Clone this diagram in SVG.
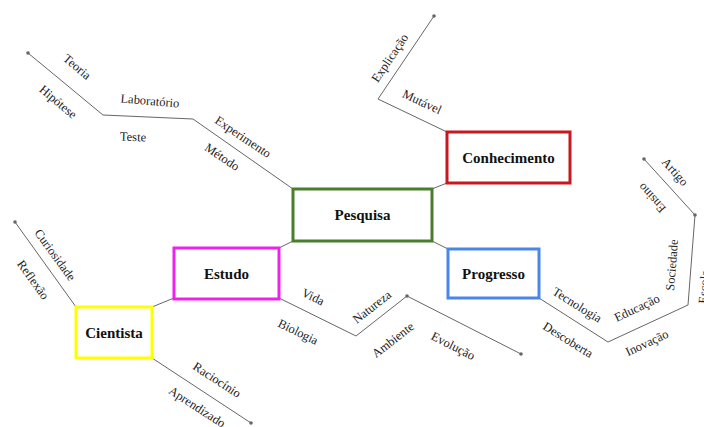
<svg xmlns="http://www.w3.org/2000/svg" width="704" height="427" viewBox="0 0 704 427">
<style>
.box{fill:#fff;stroke-width:3}
.nt{font-family:"Liberation Serif","Times New Roman",serif;font-size:15px;font-weight:bold;fill:#111;text-anchor:middle;dominant-baseline:central}
.lb{font-family:"Liberation Serif","Times New Roman",serif;font-size:12.5px;fill:#222;text-anchor:middle;dominant-baseline:central}
.ln{fill:none;stroke:#666;stroke-width:1}
.dot{fill:#666}
</style>
<rect width="704" height="427" fill="#fff"/>
<g id="connectors">
<polyline class="ln" points="293,189 193,119 103,115 28,53"/>
<circle class="dot" cx="28" cy="53" r="1.8"/>
<polyline class="ln" points="447,132 378,99 434,16"/>
<circle class="dot" cx="434" cy="16" r="1.8"/>
<line class="ln" x1="432" y1="189" x2="447" y2="183"/>
<line class="ln" x1="432" y1="241" x2="448" y2="249"/>
<line class="ln" x1="293" y1="241" x2="279" y2="248"/>
<line class="ln" x1="174" y1="298" x2="152" y2="307"/>
<polyline class="ln" points="539,298 608,342 688,305 695,215 644,159"/>
<circle class="dot" cx="695" cy="215" r="1.8"/>
<circle class="dot" cx="644" cy="159" r="1.8"/>
<polyline class="ln" points="279,298 356,336 407,296 521,354"/>
<circle class="dot" cx="407" cy="296" r="1.8"/>
<circle class="dot" cx="521" cy="354" r="1.8"/>
<line class="ln" x1="76" y1="307" x2="15" y2="222"/>
<circle class="dot" cx="15" cy="222" r="1.8"/>
<line class="ln" x1="152" y1="358" x2="251" y2="423"/>
<circle class="dot" cx="251" cy="423" r="1.8"/>
</g>
<g id="labels">
<text class="lb" transform="translate(77,67) rotate(40)">Teoria</text>
<text class="lb" transform="translate(58,102) rotate(40)">Hipótese</text>
<text class="lb" transform="translate(150,101) rotate(5)">Laboratório</text>
<text class="lb" transform="translate(133,137) rotate(2)">Teste</text>
<text class="lb" transform="translate(243,137) rotate(34)">Experimento</text>
<text class="lb" transform="translate(222,157) rotate(34)">Método</text>
<text class="lb" transform="translate(390,58) rotate(-56)">Explicação</text>
<text class="lb" transform="translate(422,102) rotate(25)">Mutável</text>
<text class="lb" transform="translate(577,305) rotate(32)">Tecnologia</text>
<text class="lb" transform="translate(568,340) rotate(32)">Descoberta</text>
<text class="lb" transform="translate(637,308) rotate(-25)">Educação</text>
<text class="lb" transform="translate(647,343) rotate(-25)">Inovação</text>
<text class="lb" transform="translate(672,265) rotate(-85.5)">Sociedade</text>
<text class="lb" transform="translate(704,287) rotate(-85.5)">Escola</text>
<text class="lb" transform="translate(675,172) rotate(48)">Artigo</text>
<text class="lb" transform="translate(652,198) rotate(228)">Ensino</text>
<text class="lb" transform="translate(313,297) rotate(26)">Vida</text>
<text class="lb" transform="translate(298,332) rotate(26)">Biologia</text>
<text class="lb" transform="translate(372,307) rotate(-38)">Natureza</text>
<text class="lb" transform="translate(393,340) rotate(-38)">Ambiente</text>
<text class="lb" transform="translate(453,346) rotate(27)">Evolução</text>
<text class="lb" transform="translate(55,255) rotate(54)">Curiosidade</text>
<text class="lb" transform="translate(33,280) rotate(54)">Reflexão</text>
<text class="lb" transform="translate(217,380) rotate(33)">Raciocínio</text>
<text class="lb" transform="translate(197,407) rotate(33)">Aprendizado</text>
</g>
<g id="pesquisa">
<rect class="box" x="293" y="189" width="139" height="52" stroke="#4a7d2e"/>
<text class="nt" x="362.5" y="215">Pesquisa</text>
</g>
<g id="conhecimento">
<rect class="box" x="447" y="132" width="123" height="51" stroke="#c8171e"/>
<text class="nt" x="508.5" y="158">Conhecimento</text>
</g>
<g id="progresso">
<rect class="box" x="448" y="249" width="91" height="49" stroke="#4a86e8"/>
<text class="nt" x="493.5" y="274">Progresso</text>
</g>
<g id="estudo">
<rect class="box" x="174" y="248" width="105" height="51" stroke="#ee22ee"/>
<text class="nt" x="226.5" y="274">Estudo</text>
</g>
<g id="cientista">
<rect class="box" x="76" y="307" width="76" height="51" stroke="#ffff00"/>
<text class="nt" x="114" y="333">Cientista</text>
</g>
</svg>
